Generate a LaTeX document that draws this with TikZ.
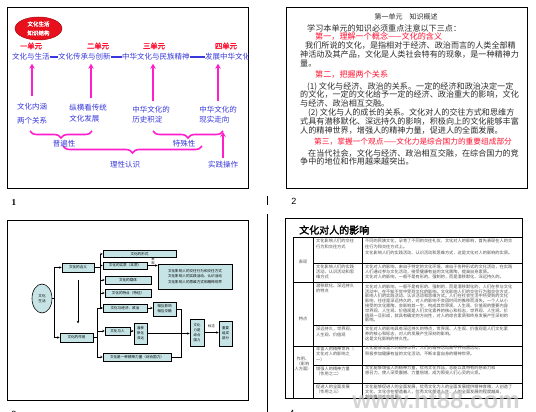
\documentclass[tikz,border=0pt]{standalone}
\usepackage{fontspec}
\setmainfont{Liberation Serif}
\setsansfont{Liberation Sans}
\newfontfamily\cjk{Noto Sans CJK SC}
\newfontfamily\cjkb[FakeBold=2]{Noto Sans CJK SC}
\newfontfamily\wmfont{Liberation Sans}
\usetikzlibrary{arrows.meta,decorations.pathreplacing,shapes.geometric,calc}
\definecolor{mag}{HTML}{FF1ECC}
\definecolor{ured}{HTML}{FF1030}
\definecolor{tblue}{HTML}{3838DC}
\definecolor{boxfill}{HTML}{C6E4E6}
\definecolor{tgray}{HTML}{505050}
\definecolor{btext}{HTML}{2A2A2A}
\definecolor{wm}{HTML}{C4C4C4}
\definecolor{ovalred}{HTML}{E8101C}
\tikzset{
  frame/.style={draw=black,line width=1pt},
  bl/.style={font=\cjk\fontsize{7.5}{8}\selectfont,text=tblue,inner sep=0pt},
  unit/.style={font=\cjkb\fontsize{7.3}{8}\selectfont,text=ured,inner sep=0pt},
  magarr/.style={draw=mag,line width=1.6pt,-{Stealth[length=5pt,width=5.5pt]}},
  magbrace/.style={draw=mag,line width=1.6pt,decorate,decoration={brace,mirror,amplitude=7pt}},
  body/.style={font=\cjk\fontsize{8.1}{9}\selectfont,text=btext,inner sep=0pt,anchor=west},
  redl/.style={body,text=ured},
  fbox/.style={draw=black,fill=boxfill,line width=0.6pt,inner sep=0pt,align=center,font=\cjk\fontsize{3.6}{4.4}\selectfont},
  sarr/.style={draw=black,line width=0.6pt,-{Stealth[length=2.5pt,width=2.5pt]}},
  sline/.style={draw=black,line width=0.6pt},
  tiny/.style={font=\cjk\fontsize{4.2}{5.5}\selectfont,text=tgray,inner sep=0pt,anchor=north west,align=left},
  tbl/.style={draw=black,line width=0.8pt},
}
\begin{document}
\begin{tikzpicture}[x=1pt,y=-1pt]
\useasboundingbox (0,0) rectangle (536,412);
\clip (0,0) rectangle (536,412);
\fill[white] (0,0) rectangle (536,412);

% ===== slide frames and labels =====
\draw[frame] (7,8) rectangle (248,188);
\draw[frame] (286,8) rectangle (527,188);
\draw[frame] (7,220) rectangle (248,400);
\draw[frame] (285,218) rectangle (522,398);
\draw[line width=0.8pt] (267,214) -- (267,412);
\draw[line width=0.6pt] (267,196) -- (267,205);
\node[font=\bfseries\fontsize{9}{10}\selectfont,inner sep=0pt] (lab1) at (14,203) {1};
\node[font=\sffamily\fontsize{9}{10}\selectfont,inner sep=0pt] (lab2) at (294,201) {2};
\node[font=\sffamily\fontsize{9}{10}\selectfont,inner sep=0pt] (lab3) at (14,414) {3};
\node[font=\sffamily\fontsize{9}{10}\selectfont,inner sep=0pt] (lab4) at (292,413) {4};

% ===== slide 1 =====
\begin{scope}
\clip (7,8) rectangle (248,188);
\node[ellipse,fill=ovalred,draw=ovalred!70!black,line width=0.5pt,minimum width=47pt,minimum height=23pt,inner sep=0pt] (oval) at (38.5,28.5) {};
\node[font=\cjkb\fontsize{5.5}{9}\selectfont,text=white,align=center,inner sep=0pt] (ovtext) at (oval.center) {文化生活\\知识结构};
\node[unit] (u1) at (31,46) {一单元};
\node[unit] (u2) at (98,46) {二单元};
\node[unit] (u3) at (154,46) {三单元};
\node[unit] (u4) at (226,46) {四单元};
\node[bl,anchor=west] (t1) at (12,57) {文化与生活};
\node[bl,anchor=west] (t2) at (58,57) {文化传承与创新};
\node[bl,anchor=west] (t3) at (122,57) {中华文化与民族精神};
\node[bl,anchor=west] (t4) at (205,57) {发展中华文化};
\draw[tblue,line width=1.2pt] (t1.east) -- (t2.west);
\draw[tblue,line width=1.2pt] (t2.east) -- (t3.west);
\draw[tblue,line width=1.2pt] (t3.east) -- (t4.west);
\node[bl,align=center,font=\cjk\fontsize{7.5}{14}\selectfont] (L1) at (32,114) {文化内涵\\两个关系};
\node[bl,align=left,font=\cjk\fontsize{7.5}{11}\selectfont] (L2) at (88,113.5) {纵横看传统\\文化发展};
\node[bl,align=left,font=\cjk\fontsize{7.5}{9.5}\selectfont] (L3) at (151,114.5) {中华文化的\\历史积淀};
\node[bl,align=left,font=\cjk\fontsize{7.5}{9.5}\selectfont] (L4) at (218,114.5) {中华文化的\\现实走向};
\draw[magarr,shorten <=7pt,shorten >=3pt] (L1.north) -- (L1.north |- t1.south);
\draw[magarr,shorten <=6pt,shorten >=3pt] ([xshift=3pt]L2.north) -- ([xshift=3pt]L2.north |- t2.south);
\draw[magarr,shorten <=5pt,shorten >=3pt] ([xshift=2pt]L3.north) -- ([xshift=2pt]L3.north |- t3.south);
\draw[magarr,shorten <=5pt,shorten >=3pt] (L4.north) -- (L4.north |- t4.south);
\draw[magbrace] (30,131) -- (92,131);
\draw[magbrace] (153,131) -- (223,131);
\draw[magbrace] (63,146) -- (202,146);
\node[bl] (gen) at (64,144) {普遍性};
\node[bl] (spec) at (184,144) {特殊性};
\node[bl] (rat) at (125,165) {理性认识};
\node[bl] (prac) at (223,165) {实践操作};
\draw[magarr,shorten <=3pt,shorten >=9pt] (prac.north) -- (prac.north |- L4.south);
\end{scope}

% ===== slide 2 =====
\node[font=\cjk\fontsize{7}{8}\selectfont,text=btext,inner sep=0pt] (s2t) at (406,17) {第一单元　知识概述};
\node[body] (s2a) at (307,28) {学习本单元的知识必须重点注意以下三点：};
\node[redl] (s2r1) at (315,36.5) {第一，理解一个概念——文化的含义};
\node[body] (s2b1) at (305,45.5) {我们所说的文化，是指相对于经济、政治而言的人类全部精};
\node[body] (s2b2) at (300,54.5) {神活动及其产品，文化是人类社会特有的现象，是一种精神力};
\node[body] (s2b3) at (300,63) {量。};
\node[redl] (s2r2) at (315,75) {第二，把握两个关系};
\node[body] (s2p1) at (307,86.5) {(1) 文化与经济、政治的关系。一定的经济和政治决定一定};
\node[body] (s2p2) at (300,95) {的文化，一定的文化给予一定的经济、政治重大的影响，文化};
\node[body] (s2p3) at (300,103.5) {与经济、政治相互交融。};
\node[body] (s2q1) at (308,113) {(2) 文化与人的成长的关系。文化对人的交往方式和思维方};
\node[body] (s2q2) at (300,121.5) {式具有潜移默化、深远持久的影响，积极向上的文化能够丰富};
\node[body] (s2q3) at (300,130) {人的精神世界，增强人的精神力量，促进人的全面发展。};
\node[redl,font=\cjk\fontsize{7.7}{9}\selectfont] (s2r3) at (314,142) {第三，掌握一个观点——文化力是综合国力的重要组成部分};
\node[body] (s2c1) at (308,153) {在当代社会，文化与经济、政治相互交融，在综合国力的竞};
\node[body] (s2c2) at (300,161.5) {争中的地位和作用越来越突出。};

% ===== slide 3 =====
\node[ellipse,draw=black,fill=boxfill,line width=0.6pt,minimum width=20pt,minimum height=29pt,inner sep=0pt,align=center,font=\cjk\fontsize{3.6}{4.6}\selectfont] (ov) at (42,298.5) {文化\\生活};
\node[fbox,minimum width=32pt,minimum height=9pt] (A) at (78,267.5) {文化的含义};
\node[fbox,minimum width=33pt,minimum height=9pt] (B) at (76.5,337.5) {文化的作用};
\node[fbox,minimum width=73pt,minimum height=6.5pt] (b1) at (139.5,254) {文化的形式};
\node[fbox,minimum width=44pt,minimum height=7pt] (b2) at (125,265.5) {文化的实质（本质）};
\node[fbox,minimum width=46pt,minimum height=8pt] (b3) at (128,280) {文化的载体};
\node[fbox,minimum width=46pt,minimum height=8pt] (b4) at (128,293) {文化的特点（特征）};
\node[fbox,minimum width=44pt,minimum height=8pt] (b5) at (125,308) {文化与经济、政治};
\node[fbox,minimum width=25pt,minimum height=8pt] (b6) at (117.5,331) {文化与人};
\node[fbox,minimum width=68pt,minimum height=8pt] (b7) at (137,357) {文化是一种精神力量（综合国力）};
\node[fbox,minimum width=74pt,minimum height=25pt,font=\cjk\fontsize{3.6}{5.5}\selectfont] (c1) at (195,276.5) {文化影响人的交往行为和交往方式\\文化影响人的实践活动、认识活动\\文化影响人的思维方式和精神世界};
\node[fbox,minimum width=23pt,minimum height=14pt,font=\cjk\fontsize{3.6}{5}\selectfont] (c2) at (164.5,309) {相互影响\\相互交融};
\node[fbox,minimum width=13pt,minimum height=21pt,font=\cjk\fontsize{3.4}{5}\selectfont] (c3) at (140.5,333.5) {潜移\\默化\\深远};
\node[fbox,minimum width=14pt,minimum height=27pt,font=\cjk\fontsize{3.4}{5}\selectfont] (c4) at (197,332.5) {文化\\力是\\综合\\国力};
\node[fbox,minimum width=13pt,minimum height=25pt,font=\cjk\fontsize{3.4}{5}\selectfont] (c5) at (225.5,333.5) {重要\\组成\\部分};
\node[font=\cjk\fontsize{3.3}{4}\selectfont,inner sep=0pt,align=center] (mk1) at (153,261) {表\\现};
\node[font=\cjk\fontsize{3.3}{4}\selectfont,inner sep=0pt] (mk2) at (211.5,326) {标志};
\coordinate (j1) at (54.5,298.5);
\coordinate (j2) at (100,267.5);
\coordinate (j3) at (97.7,337.5);
\coordinate (j4) at (181.7,357);
\draw[sline] (ov.east) -- (j1);
\draw[sarr] (j1) |- (A.west);
\draw[sarr] (j1) |- (B.west);
\draw[sarr] ($(A.south)+(0,8)$) -- ($(A.south)+(0,51)$);
\draw[sline] (A.east) -- (j2);
\draw[sarr] (j2) |- (b1.west);
\draw[sarr] (j2) |- (b2.west);
\draw[sarr] (j2) |- (b3.west);
\draw[sarr] (j2) |- (b4.west);
\draw[sarr] (j2) |- (b5.west);
\draw[sline] (B.east) -- (j3);
\draw[sarr] (j3) |- (b5.west);
\draw[sarr] (j3) |- (b6.west);
\draw[sarr] (j3) |- (b7.west);
\draw[sarr] (b2.east) -- (c1.west |- b2.east);
\draw[sarr] (b5.east) -- (c2.west |- b5.east);
\draw[sarr] (b6.east) -- (c3.west |- b6.east);
\draw[sarr] (c3.east) -- (c4.west |- c3.east);
\draw[sline] (c2.east) -| (j4);
\draw[sline] (b7.east) -- (j4);
\draw[sarr] (c4.east) -- (c5.west |- c4.east);

% ===== slide 4 =====
\node[font=\cjkb\fontsize{10}{11}\selectfont,inner sep=0pt,anchor=west] (s4t) at (299,230) {文化对人的影响};
\draw[tbl] (293,237) -- (522,237);
\draw[tbl] (293,237) -- (293,398);
\draw[tbl] (313,237) -- (313,398);
\draw[tbl] (362,237) -- (362,398);
\draw[tbl] (293,282) -- (522,282);
\draw[tbl] (293,346) -- (522,346);
\draw[tbl] (313,263) -- (522,263);
\draw[tbl] (313,325) -- (522,325);
\draw[tbl] (313,365) -- (522,365);
\draw[tbl] (313,383) -- (522,383);
\node[tiny,anchor=center] (g1) at (303,262) {表现};
\node[tiny,anchor=center] (g2) at (303,319) {特点};
\node[tiny,anchor=center,align=center,font=\cjk\fontsize{4.2}{5}\selectfont] (g3) at (303,364) {作用、\\（影响\\人方面）};
\node[tiny,font=\cjk\fontsize{4.2}{6}\selectfont] (m1) at (316,238.5) {文化影响人们的交往\\行为和交往方式};
\node[tiny,font=\cjk\fontsize{4.2}{5}\selectfont] (m2) at (316,264.5) {文化影响人们的实践\\活动、认识活动和思\\维方式};
\node[tiny,font=\cjk\fontsize{4.2}{5}\selectfont] (m3) at (316,283.5) {潜移默化、深远持久\\的特点};
\node[tiny,font=\cjk\fontsize{4.2}{6}\selectfont] (m4) at (316,326.5) {深远持久，世界观、\\人生观、价值观};
\node[tiny,font=\cjk\fontsize{4.2}{5.5}\selectfont] (m5) at (316,346.5) {丰富人的精神世界（\\文化对人的影响之\\一）};
\node[tiny,font=\cjk\fontsize{4.2}{4.8}\selectfont] (m6) at (316,366.5) {增强人的精神力量\\（作用之二）};
\node[tiny,font=\cjk\fontsize{4.2}{5}\selectfont] (m7) at (316,384.5) {促进人的全面发展\\（作用之三）};
\node[tiny,font=\cjk\fontsize{4.2}{6}\selectfont] (r1) at (365,238.5) {不同的民族文化，孕育了不同的交往礼仪，文化对人的影响，首先表现在人的交\\往行为和交往方式上。\\文化影响人们的实践活动、认识活动和思维方式，这是文化对人的影响的实质。};
\node[tiny,font=\cjk\fontsize{4.2}{5}\selectfont] (r2) at (365,264.5) {文化对人的影响，来自于特定的文化环境，来自于各种形式的文化活动，在实践\\人们通过参与文化活动，接受健康有益的文化熏陶，提高自身素质。\\文化对人的影响，一般不是有形的、强制的，而是潜移默化、深远持久的。};
\node[tiny,font=\cjk\fontsize{4.2}{4.8}\selectfont] (r3) at (365,284.5) {文化对人的影响，一般不是有形的、强制的，而是潜移默化的，人们在参与文化\\活动中，在不知不觉中受到文化的影响。文化影响人们的交往行为和交往方式，\\影响人们的实践活动、认识活动和思维方式。人们在社会生活中所受到的文化\\影响，往往是深远持久的，对人的影响不会因时间的推移而消失。一个人从小\\接受的文化熏陶，会影响其一生，构成其世界观、人生观、价值观的重要内容\\世界观、人生观、价值观是人们文化素养的核心和标志，世界观、人生观、价\\值观一旦形成，就具有确定的方向性，对人的综合素质和终身发展产生深刻的\\影响。};
\node[tiny,font=\cjk\fontsize{4.2}{5}\selectfont] (r4) at (365,326.5) {文化对人的影响具有深远持久的特点，世界观、人生观、价值观是人们文化素\\养的核心和标志，对人的发展产生深刻的影响。\\这是文化影响的持久性。};
\node[tiny,font=\cjk\fontsize{4.2}{6}\selectfont] (r5) at (365,345.5) {文化能够丰富人的精神世界，人们的精神活动离不开物质活动，\\积极参加健康有益的文化活动，不断丰富自身的精神世界。};
\node[tiny,font=\cjk\fontsize{4.2}{5}\selectfont] (r6) at (365,365.5) {文化能够增强人的精神力量，优秀文化作品，总能以其特有的感染力和\\感召力，使人深受震撼、力量倍增，成为照亮人们心灵的火炬。};
\node[tiny,font=\cjk\fontsize{4.2}{5}\selectfont] (r7) at (365,384.5) {文化能够促进人的全面发展，优秀文化为人的全面发展提供精神食粮，人创造了\\文化，文化也在塑造着人，优秀文化塑造人生，人的全面发展的程度越高，\\越能推动社会发展。};
\node[font=\wmfont\bfseries\fontsize{24}{24}\selectfont,text=wm,opacity=0.7,inner sep=0pt] (wm1) at (436,400) {www.ht88.com};
\end{tikzpicture}
\end{document}
